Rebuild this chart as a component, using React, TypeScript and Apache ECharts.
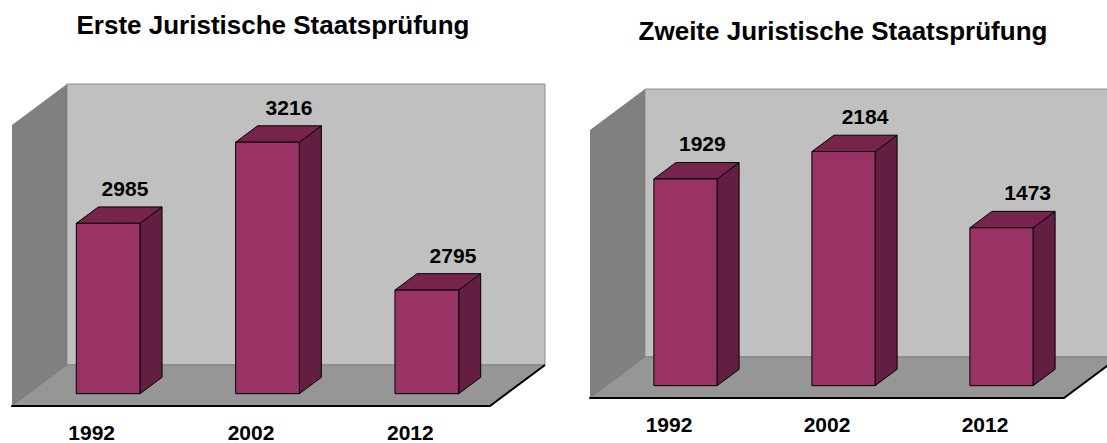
import React, { useEffect, useRef } from 'react';
import * as echarts from 'echarts';

// ---- data ----
const categories = ['1992', '2002', '2012'];
const ersteValues = [2985, 3216, 2795];
const zweiteValues = [1929, 2184, 1473];
const titles = ['Erste Juristische Staatsprüfung', 'Zweite Juristische Staatsprüfung'];
const ersteRange = [2500, 3300];
const zweiteRange = [0, 2500];

// ---- style ----
const FONT = "'Liberation Sans', Arial, Helvetica, sans-serif";
const DEPTH: [number, number] = [55, -41];
const BAR_FRONT = 0.3; // depth fraction of bar front plane
const BAR_DEPTH = 0.4; // depth fraction of bar thickness
const BAR_WIDTH = 0.4; // fraction of category band

const renderWalls = (params: any, api: any) => {
  const cs = params.coordSys;
  const L = cs.x, R = cs.x + cs.width, T = cs.y, B = cs.y + cs.height;
  const [dx, dy] = DEPTH;
  return {
    type: 'group',
    children: [
      { type: 'rect', shape: { x: L + dx, y: T + dy, width: R - L, height: B - T }, style: { fill: '#c0c0c0', stroke: '#8e8e8e', lineWidth: 1 } },
      { type: 'polygon', shape: { points: [[L, T], [L + dx, T + dy], [L + dx, B + dy], [L, B]] }, style: { fill: '#808080' } },
      { type: 'polygon', shape: { points: [[L, B], [R, B], [R + dx, B + dy], [L + dx, B + dy]] }, style: { fill: '#969696', stroke: '#7c7c7c', lineWidth: 1 } },
      { type: 'line', shape: { x1: R, y1: B, x2: R + dx, y2: B + dy }, style: { stroke: '#000', lineWidth: 2 } },
    ],
  };
};

const renderBar = (params: any, api: any) => {
  const cs = params.coordSys;
  const L = cs.x, B = cs.y + cs.height;
  const cat = api.value(0);
  const val = api.value(1);
  const topPt = api.coord([cat, val]);
  const band = api.size([1, 0])[0];
  const bw = band * BAR_WIDTH;
  const [DX, DY] = DEPTH;
  const ox = DX * BAR_FRONT, oy = DY * BAR_FRONT;
  const dx = DX * BAR_DEPTH, dy = DY * BAR_DEPTH;
  const cx = topPt[0] + ox;
  const x0 = cx - bw / 2, x1 = cx + bw / 2;
  const yT = topPt[1] + oy;
  const yB = B + oy;
  const frac = (cx - L) / cs.width;
  const lx = cx + 14 + 14 * frac;
  const ly = yT - 35;
  const edge = { stroke: '#000', lineWidth: 1 };
  return {
    type: 'group',
    children: [
      { type: 'polygon', shape: { points: [[x1, yT], [x1 + dx, yT + dy], [x1 + dx, yB + dy], [x1, yB]] }, style: { fill: '#621f42', ...edge } },
      { type: 'polygon', shape: { points: [[x0, yT], [x1, yT], [x1 + dx, yT + dy], [x0 + dx, yT + dy]] }, style: { fill: '#77244d', ...edge } },
      { type: 'rect', shape: { x: x0, y: yT, width: bw, height: yB - yT }, style: { fill: '#993366', ...edge } },
      {
        type: 'text',
        style: {
          text: String(val), x: lx, y: ly, fill: '#000',
          font: `bold 21px ${FONT}`,
          align: 'center', verticalAlign: 'middle',
          textAlign: 'center', textVerticalAlign: 'middle',
        },
      },
    ],
  };
};

const makeX = (gridIndex: number) => ({
  type: 'category',
  gridIndex,
  data: categories,
  boundaryGap: true,
  z: 10,
  axisLine: { lineStyle: { color: '#000', width: 2 } },
  axisTick: { length: 7, lineStyle: { color: '#000', width: 1 } },
  axisLabel: { fontSize: 21, fontWeight: 'bold', color: '#000', margin: 16, fontFamily: FONT },
});

const makeY = (gridIndex: number, range: number[]) => ({
  type: 'value', gridIndex, min: range[0], max: range[1], show: false,
});

const seriesFor = (idx: number, values: number[]) => [
  {
    type: 'custom', xAxisIndex: idx, yAxisIndex: idx, clip: false, silent: true, z: 1,
    renderItem: renderWalls, data: [[0, values[0]]],
  },
  {
    type: 'custom', xAxisIndex: idx, yAxisIndex: idx, clip: false, silent: true, z: 3,
    renderItem: renderBar, encode: { x: 0, y: 1 },
    data: values.map((v, i) => [i, v]),
  },
];

export default function App() {
  const ref = useRef<HTMLDivElement>(null);
  useEffect(() => {
    if (!ref.current) return;
    const chart = echarts.init(ref.current, undefined, { renderer: 'svg' });
    chart.setOption({
      animation: false,
      backgroundColor: '#fff',
      grid: [
        { left: 12, top: 125, width: 478, height: 286 },
        { left: 590, top: 130, width: 474, height: 268 },
      ],
      xAxis: [makeX(0), makeX(1)],
      yAxis: [makeY(0, ersteRange), makeY(1, zweiteRange)],
      series: [...seriesFor(0, ersteValues), ...seriesFor(1, zweiteValues)],
      graphic: [
        {
          type: 'text', x: 273, y: 24.5,
          style: { text: titles[0], font: `bold 26px ${FONT}`, fill: '#000', align: 'center', verticalAlign: 'middle', textAlign: 'center', textVerticalAlign: 'middle' },
        },
        {
          type: 'text', x: 843, y: 30.5,
          style: { text: titles[1], font: `bold 26px ${FONT}`, fill: '#000', align: 'center', verticalAlign: 'middle', textAlign: 'center', textVerticalAlign: 'middle' },
        },
      ],
    });
    return () => chart.dispose();
  }, []);
  return <div ref={ref} style={{ position: 'fixed', left: 0, top: 0, width: 1107, height: 443 }} />;
}
